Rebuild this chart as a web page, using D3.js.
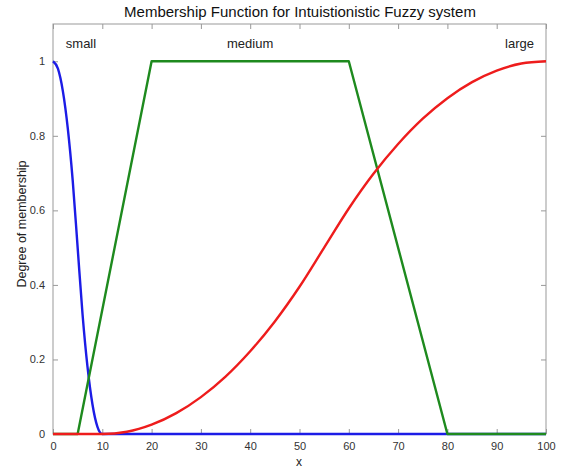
<!DOCTYPE html>
<html><head><meta charset="utf-8">
<script src="https://cdn.jsdelivr.net/npm/d3@7"></script>
<style>body{margin:0;background:#fff}svg{display:block}text{font-family:"Liberation Sans",Arial,sans-serif}</style>
</head><body><svg id="c" width="571" height="472"></svg>
<script>
const smallX = [0,1,2,3,4,5,6,7,8,9,10,100];
const smallY = [1,0.98,0.92,0.82,0.68,0.5,0.32,0.18,0.08,0.02,0,0];
const mediumX = [0,5,20,60,80,100];
const mediumY = [0,0,1,1,0,0];
const largeX = [0,10,15,20,25,30,35,40,45,50,55,60,65,70,75,80,85,90,95,100];
const largeY = [0,0,0.006,0.025,0.056,0.099,0.154,0.222,0.302,0.395,0.5,0.605,0.698,0.778,0.846,0.901,0.944,0.975,0.994,1];
const xTicks = [0,10,20,30,40,50,60,70,80,90,100];
const yTicks = [0,0.2,0.4,0.6,0.8,1];
const labels = [{t:"small",x:2.6,y:1.035},{t:"medium",x:35.3,y:1.035},{t:"large",x:91.7,y:1.035}];

const svg = d3.select("#c");
const L=53,R=546,T=24,B=434;
const x = d3.scaleLinear().domain([0,100]).range([L,R]);
const y = d3.scaleLinear().domain([0,1.1]).range([B,T]);
const axisCol="#999", txtCol="#333";

svg.append("rect").attr("x",L).attr("y",T).attr("width",R-L).attr("height",B-T).attr("fill","none").attr("stroke",axisCol).attr("stroke-width",1);

function styleAxis(g){g.select(".domain").remove();g.selectAll("line").attr("stroke",axisCol);g.selectAll("text").attr("fill",txtCol).attr("font-size","11px");}
svg.append("g").attr("transform",`translate(0,${B})`).call(d3.axisBottom(x).tickValues(xTicks).tickSizeInner(-5).tickSizeOuter(0).tickPadding(8).tickFormat(d3.format("d"))).call(styleAxis);
svg.append("g").attr("transform",`translate(0,${T})`).call(d3.axisTop(x).tickValues(xTicks).tickSizeInner(-5).tickSizeOuter(0).tickFormat("")).call(styleAxis);
svg.append("g").attr("transform",`translate(${L},0)`).call(d3.axisLeft(y).tickValues(yTicks).tickSizeInner(-5).tickSizeOuter(0).tickPadding(8).tickFormat(d=>d3.format("~g")(d))).call(styleAxis);
svg.append("g").attr("transform",`translate(${R},0)`).call(d3.axisRight(y).tickValues(yTicks).tickSizeInner(-5).tickSizeOuter(0).tickFormat("")).call(styleAxis);

function drawSeries(xs,ys,col,curve){
  const pts = xs.map((v,i)=>[v,ys[i]]);
  svg.append("path").datum(pts).attr("fill","none").attr("stroke",col).attr("stroke-width",2.4).attr("stroke-linejoin","round")
    .attr("d",d3.line().x(d=>x(d[0])).y(d=>y(d[1])).curve(curve));
}
drawSeries(smallX,smallY,"#1c1ce6",d3.curveMonotoneX);
drawSeries(mediumX,mediumY,"#1e8a1e",d3.curveLinear);
drawSeries(largeX,largeY,"#ee1c1c",d3.curveMonotoneX);

labels.forEach(l=>svg.append("text").attr("x",x(l.x)).attr("y",y(l.y)).attr("font-size","13px").attr("fill","#222").text(l.t));

svg.append("text").attr("x",300).attr("y",17).attr("text-anchor","middle").attr("font-size","15px").attr("fill","#111").text("Membership Function for Intuistionistic Fuzzy system");
svg.append("text").attr("x",299).attr("y",466).attr("text-anchor","middle").attr("font-size","12px").attr("fill","#222").text("x");
svg.append("text").attr("transform",`translate(26,224) rotate(-90)`).attr("text-anchor","middle").attr("font-size","12.5px").attr("fill","#222").text("Degree of membership");
</script></body></html>
